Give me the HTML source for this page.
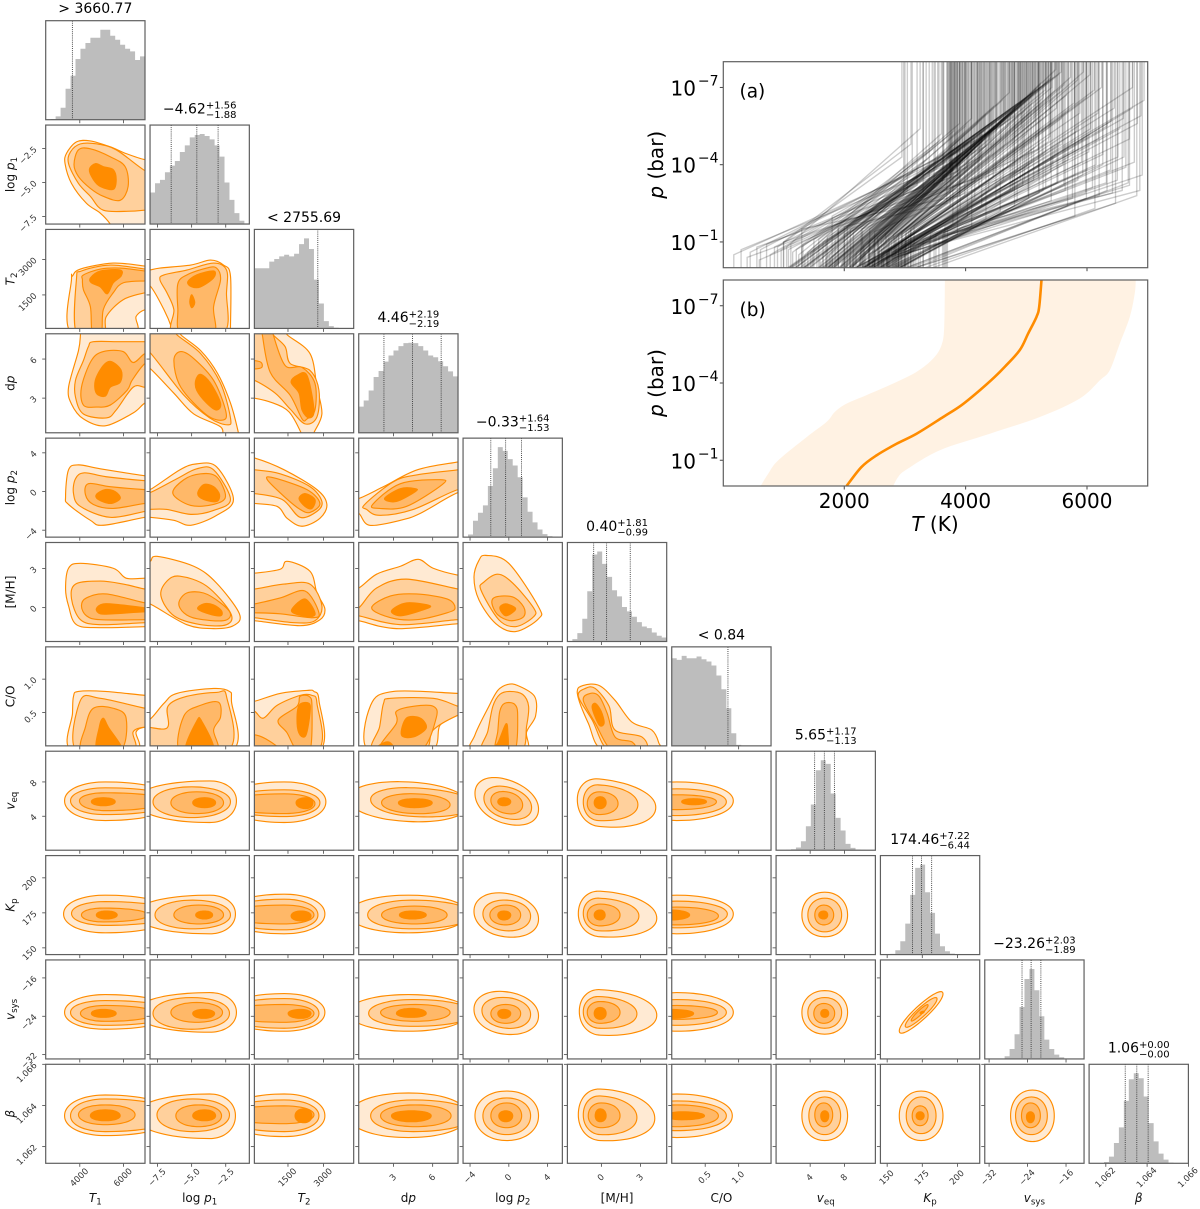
<!DOCTYPE html>
<html lang="en">
<head>
<meta charset="utf-8">
<title>Corner plot and P-T profiles</title>
<style>
html,body{margin:0;padding:0;background:#fff}
svg{display:block;filter:blur(.3px)}
text{font-family:"DejaVu Sans","Liberation Sans",sans-serif}
</style>
</head>
<body>
<svg id="fig" xmlns="http://www.w3.org/2000/svg" width="1200" height="1209" viewBox="0 0 1200 1209"></svg>
<script>
/* ---------- corner plot parameters ---------- */
const paramLo = [2437,-8.05,85,0.34,-4.72,-2.6,0,0.04,145.2,-32.9,1.06119];
const paramHi = [6989,-0.77,4267,7.94,5.52,5.0,1.484,11.58,215.9,-12.25,1.066];
const paramIds = ['t1','log-p1','t2','dp','log-p2','m-h','c-o','v-eq','k-p','v-sys','beta'];
const paramTicks = [[4000,6000],[-7.5,-5,-2.5],[1500,3000],[3,6],[-4,0,4],[0,3],[0.5,1.0],[4,8],[150,175,200],[-32,-24,-16],[1.062,1.064,1.066]];
const paramTickLabels = [['4000','6000'],['−7.5','−5.0','−2.5'],['1500','3000'],['3','6'],['−4','0','4'],['0','3'],['0.5','1.0'],['4','8'],['150','175','200'],['−32','−24','−16'],['1.062','1.064','1.066']];
const paramLabels = [
 [['T','i'],['1','s']],[['log ','n'],['p','i'],['1','s']],[['T','i'],['2','s']],[['d','n'],['p','i']],
 [['log ','n'],['p','i'],['2','s']],[['[M/H]','n']],[['C/O','n']],[['v','i'],['eq','s']],
 [['K','i'],['p','s']],[['v','i'],['sys','s']],[['β','i']]
];
const paramTitles = [['> 3660.77'],['−4.62','+1.56','−1.88'],['< 2755.69'],['4.46','+2.19','−2.19'],['−0.33','+1.64','−1.53'],['0.40','+1.81','−0.99'],['< 0.84'],['5.65','+1.17','−1.13'],['174.46','+7.22','−6.44'],['−23.26','+2.03','−1.89'],['1.06','+0.00','−0.00']];
const paramQuantiles = [[3660.77],[-6.5,-4.62,-3.06],[2755.69],[2.27,4.46,6.65],[-1.86,-0.33,1.31],[-0.59,0.40,2.21],[0.84],[4.52,5.65,6.82],[168.02,174.46,181.68],[-25.15,-23.26,-21.23],[1.06294,1.0635,1.06405]];

/* ---------- marginal histograms (20 bins spanning each axis range) ---------- */
const histT1   = [0,2,10,36,93,132,182,213,230,246,246,270,270,252,240,225,213,205,179,190];
const histLogP1= [95,123,133,156,176,190,217,237,261,268,271,265,255,237,203,125,73,33,10,2];
const histT2   = [181,181,181,201,209,217,222,217,225,254,271,239,147,75,22,7,2,1,0,0];
const histDp   = [78,96,126,166,184,212,230,245,258,267,268,267,258,245,230,225,213,198,183,168];
const histLogP2= [0,8,49,73,95,153,206,269,258,233,214,179,119,76,44,23,9,3,1,0];
const histMH   = [0,7,25,68,150,260,269,232,193,153,135,103,90,74,58,45,40,27,17,12];
const histCO   = [263,258,270,263,263,268,260,253,241,211,170,113,38,3,0,0,1,1,0,0];
const histVeq  = [0,0,1,3,8,27,72,137,240,270,259,170,97,59,19,7,2,1,0,0];
const histKp   = [0,0,2,13,40,93,179,260,270,187,125,63,25,10,3,1,0,0,0,0];
const histVsys = [0,0,0,1,8,30,74,156,240,270,206,128,58,30,13,5,1,0,0,0];
const histBeta = [0,0,1,4,20,61,108,188,253,271,256,201,121,66,29,11,2,0,0,0];
const histograms = [histT1,histLogP1,histT2,histDp,histLogP2,histMH,histCO,histVeq,histKp,histVsys,histBeta];

/* ---------- 2D credible contours, in percent of each parameter's axis range.
   polygon form: [level,[u,v,u,v,...]] ; level 0 is the outermost */
const contourPolys = {
'1,0':[[0,[19.5,61,21,71.5,31,83,45,84,65,78,81.5,71,100,65,110,65,110,-5,66,-5,65,0,55,11,41,21,26,41]],
 [1,[23,61,25,73,35,81,51,81,71,75,100,54,110,54,110,14,100,14,85,13,58,14,45,28,33,41]],
 [2,[28.5,60,33,75,45,76,65,68,80,58,83,38,75,24,58,28,45,36,33,48]],
 [3,[44,55,50,61,58,58,68,55,71,45,68,35,55,38,48,45]]],
'2,0':[[0,[26,-5,26,50,27,53,35,60,68,66,100,63,110,63,110,19,100,19,91,12,88,-5]],
 [1,[31,-5,31,50,36,58,65,64,100,60,110,60,110,36,100,36,78,29,61,12,58,-5]],
 [2,[37,49,38,54,55,60,75,61,100,58,110,58,110,48,100,48,78,46,68,36,58,19,56,-5,47,-5,45,22,38,39]],
 [3,[45,51,55,58,75,59,76,53,68,46,62,35,55,42,46,46]]],
'2,1':[[0,[-10,59,0,59,10,61,41,64,61,69,74,64,81,53,81,0,81,-5,22,-5,22,0,14,19,0,43,-10,43]],
 [1,[10,49,14,54,37,59,64,66,77,59,77,36,74,-5,24,-5,24,19,17,36]],
 [2,[28,45,37,54,57,61,67,61,71,49,64,22,64,-5,31,-5,28,20]],
 [3,[38,47,47,54,64,58,64,51,51,42,42,42]],
 [3,[40,27,42,34,45,26,42,21]]],
'3,0':[[0,[35,105,35,99,33,83,23,46,26,29,38,14,60,7,88,20,100,30,110,30,110,105]],
 [1,[43,87,48,92,75,92,100,92,110,92,110,47,100,46,88,46,71,23,61,15,38,19,30,36,30,53,38,73]],
 [2,[36,46,46,73,58,82,78,82,88,71,100,80,110,80,110,70,100,70,87,53,82,43,65,28,51,26,38,28]],
 [3,[50,53,58,68,66,72,76,63,75,51,65,46,60,37,51,40]]],
'3,1':[[0,[31,105,31,99,51,83,68,60,81,30,89,0,89,-5,74,-5,71,6,44,19,24,40,0,65,-10,70,-10,105]],
 [1,[27,105,27,99,51,80,71,50,81,15,78,8,60,15,34,38,0,81,-10,85,-10,105]],
 [2,[24,73,31,82,44,75,64,53,76,23,74,13,57,18,31,46]],
 [3,[46,53,51,59,61,50,71,30,67,23,57,30,47,43]]],
'3,2':[[0,[33,105,33,99,56,80,63,46,68,19,60,0,60,-5,47,-5,47,0,35,21,19,30,0,35,-10,35,-10,105]],
 [1,[19,105,19,99,31,87,36,70,56,63,65,43,63,16,51,9,36,24,21,40,0,53,-10,53,-10,105]],
 [2,[8,105,8,99,16,61,36,38,48,14,53,14,61,23,61,50,48,66,31,68,19,99,19,105]],
 [2,[-10,73,5,72,8,68,5,65,-10,65]],
 [3,[37,51,43,58,53,58,60,23,55,15,48,23,45,40]]],
'4,0':[[0,[20,41,23,68,33,73,55,69,100,62,110,62,110,20,100,20,58,12,45,17,23,33]],
 [1,[28,44,30,59,39,65,61,61,100,57,110,57,110,26,100,26,65,20,35,31]],
 [2,[40,43,43,54,65,51,100,48,110,48,110,33,100,34,68,29,48,33]],
 [3,[51,43,60,48,70,46,75,39,65,34,53,38]]],
'4,1':[[0,[0,48,30,68,47,74,67,71,84,38,67,22,41,12,24,17,0,20,-10,20,-10,48]],
 [1,[0,45,27,59,47,69,64,68,81,38,64,27,41,23,17,28,0,28,-10,26,-10,45]],
 [2,[23,44,34,58,51,64,67,61,76,41,64,33,41,32]],
 [3,[48,44,54,53,64,51,70,43,67,36,54,38]]],
'4,2':[[0,[0,80,30,68,63,48,73,33,66,19,48,11,33,19,23,31,0,34,-10,34,-10,80]],
 [1,[0,68,26,64,56,51,68,36,63,26,46,20,28,38,0,44,-10,44,-10,68]],
 [2,[13,58,19,60,53,48,66,34,56,25,46,28,30,41]],
 [3,[45,39,51,44,61,38,58,29,51,31]]],
'4,3':[[0,[0,39,25,51,59,68,100,76,110,78,110,40,100,45,62,24,42,17,11,12,0,24,-10,24,-10,39]],
 [1,[6,33,35,56,59,63,100,68,110,70,110,42,100,48,55,28,21,22,8,28]],
 [2,[14,33,42,54,82,58,84,53,48,31,21,29]],
 [3,[26,39,42,49,57,49,57,46,38,36]]],
'5,0':[[0,[20,53,23,74,35,79,68,74,81,64,100,64,110,64,110,15,100,15,55,14,31,17,23,36]],
 [1,[26,43,30,58,55,61,78,58,100,53,110,53,110,18,100,19,55,17,35,22]],
 [2,[36,36,41,44,61,48,100,39,110,39,110,22,100,22,55,22,41,26]],
 [3,[51,33,58,38,75,37,100,34,110,32,110,29,100,30,68,28,55,28]]],
'5,1':[[0,[0,81,7,86,44,76,67,59,90,28,84,16,64,13,37,17,0,38,-10,38,-10,81]],
 [1,[11,46,17,61,30,66,57,56,81,29,77,17,51,17,24,26]],
 [2,[29,39,37,49,54,49,71,39,81,28,74,21,47,23,34,29]],
 [3,[48,33,54,38,64,37,72,31,71,26,59,28]]],
'5,2':[[0,[0,69,26,73,33,81,56,71,63,49,71,33,66,22,46,16,0,21,-10,21,-10,69]],
 [1,[0,53,30,58,56,58,68,36,61,21,40,19,0,24,-10,24,-10,53]],
 [2,[0,38,26,44,51,51,65,29,58,24,26,28,0,29,-10,29,-10,38]],
 [3,[38,33,51,43,61,29,56,25,41,28]]],
'5,3':[[0,[0,54,18,68,42,76,60,83,75,74,100,67,110,67,110,18,100,18,38,13,0,21,-10,21,-10,54]],
 [1,[0,34,18,54,48,63,100,53,110,53,110,19,100,22,42,17,0,26,-10,26,-10,34]],
 [2,[13,34,32,46,58,48,89,43,97,34,89,29,58,22,32,24]],
 [3,[33,31,48,39,72,36,62,31,42,26]]],
'5,4':[[0,[11,65,16,82,23,87,46,79,76,35,76,23,53,10,33,18,16,42]],
 [1,[18,52,21,60,35,68,50,59,71,34,71,25,53,15,36,22]],
 [2,[29,39,33,45,50,45,61,35,61,25,48,21,35,27]],
 [3,[37,34,43,38,53,33,43,26]]],
'6,0':[[0,[26,-5,27,33,28,50,33,55,60,55,100,51,110,51,110,20,100,19,91,14,90,-5]],
 [1,[31,-5,35,46,55,48,100,38,110,38,110,18,100,19,88,14,87,-5]],
 [2,[37,-5,40,19,48,38,68,38,81,28,75,-5]],
 [3,[52,-5,54,19,58,28,63,19,77,-5]]],
'6,1':[[0,[-10,27,0,27,14,43,27,53,64,58,80,55,82,45,82,-5,-10,-5]],
 [1,[-10,18,17,18,18,40,37,50,67,54,77,50,78,-5,-10,-5]],
 [2,[30,-5,34,30,51,41,69,44,71,29,64,16,67,-5]],
 [3,[36,-5,47,25,52,25,64,-5]]],
'6,2':[[0,[0,45,26,53,53,56,60,55,65,46,65,-5,-10,-5,-10,45]],
 [1,[-10,35,0,35,9,28,23,41,46,51,58,51,63,43,63,-5,-10,-5]],
 [2,[24,26,43,40,46,50,55,50,58,40,56,-5,43,-5,33,13]],
 [2,[-10,10,5,10,22,0,22,-5,-10,-5]],
 [3,[43,23,45,41,55,43,56,33,52,11,46,11]]],
'6,3':[[0,[10,-5,12,41,35,55,100,53,110,53,110,35,100,31,82,21,72,-5]],
 [1,[15,-5,21,19,25,43,32,48,75,48,100,40,110,38,110,32,100,31,75,16,65,-5]],
 [2,[21,-5,38,23,38,35,55,40,75,40,78,28,62,-5]],
 [3,[43,11,48,28,62,28,68,18,55,9]],
 [3,[15,-5,25,3,32,3,35,-5]]],
'6,4':[[0,[10,-5,12,11,25,38,35,56,45,62,55,61,72,50,73,30,64,14,62,-5]],
 [1,[20,-5,25,15,30,40,37,52,47,55,60,52,66,40,64,20,58,-5]],
 [2,[33,-5,35,15,37,35,42,43,52,42,55,30,52,-5]],
 [3,[28,-5,35,3,43,22,45,15,44,-5]]],
'6,5':[[0,[10,53,16,61,32,61,48,46,65,24,85,16,92,3,91,-5,37,-5,21,23]],
 [1,[11,50,18,58,28,58,42,40,48,16,75,9,78,-5,42,-5,25,26]],
 [2,[16,46,23,53,32,50,40,33,48,9,65,4,68,-5,45,-5,28,23]],
 [3,[25,38,28,43,34,35,37,23,32,21]]]
};
/* egg form: [centre u, centre v, left, right, lower, upper, shear] ; outermost first */
const contourEggs = {
'7,0':[[60,50,41,70,20,19,0],[60,50,35,70,14,13,0],[60,50,26,60,10,8,0],[58,49,12,12,4,4,0]],
'7,1':[[60,50,75,27,22,20,0],[42,49,39,39,16,15,0],[47,48,26,27,11,11,0],[55,48,12,11,5,5,0]],
'7,2':[[30,49,60,42,21,20,0],[30,48,60,36,14,13,0],[30,47,60,31,10,10,0],[52,48,10,7,6,5,0]],
'7,3':[[50,49,60,60,20,20,-0.05],[56,49,44,60,15,14,-0.05],[57,47,34,35,10,10,-0.03],[56,48,16,18,5,4,0]],
'7,4':[[42,50,30,34,23,22,-0.25],[44,48,23,25,16,16,-0.2],[44,48,16,16,11,11,-0.15],[41,49,6,7,4,4,0]],
'7,5':[[32,49,22,57,25,23,-0.1],[31,48,15,40,18,18,-0.05],[32,47,12,19,11,12,0],[33,48,6,6,6,6,0]],
'7,6':[[5,50,30,57,20,19,0],[5,49,30,50,14,13,0],[5,49,30,40,8,7,0],[22,49,12,13,3,3,0]],
'8,0':[[60,41,42,70,19,19,0],[60,41.5,34,70,12,12,0],[58,40,22,45,7,7,0],[61,40,10,11,4,4,0]],
'8,1':[[60,41,75,26,20,19,0],[43,40,38,38,14,15,0],[49,40,25,25,9,10,0],[55,40,9,8,4,4,0]],
'8,2':[[30,41,60,41,20,20,0],[30,40,60,34,15,16,0],[30,40,60,30,9,10,0],[47,39,10,10,5,5,0]],
'8,3':[[50,41,60,60,19,19,0],[54,40,45,60,14,15,0],[56,40,33,33,9,9,0],[54,40,13,14,4,4,0]],
'8,4':[[42,40,31,34,22,22,-0.12],[44,40,24,24,16,15,-0.05],[43,40,16,15,10,10,0],[41,40,6,7,5,4,0]],
'8,5':[[33,40,22,57,22,24,-0.06],[32,41,16,40,17,16,-0.05],[33,40,13,20,11,11,0],[33,40,6,5,5,5,0]],
'8,6':[[5,41,30,57,20,19,0],[5,41,30,51,14,13,0],[5,39,30,42,9,9,0],[-2,40,5,20,5,5,0]],
'8,7':[[49,40,23,23,22,23,0],[49,40,17,17,17,17,0],[48,40,9,10,10,10,0],[48,40,5,4,4,4,0]],
'9,0':[[60,47,41,70,17,18,0],[60,47,35,70,13,12,0],[60,46,25,50,8,8,0],[58,46,12,13,4,4,0]],
'9,1':[[60,47,75,27,20,20,0],[42,46,39,38,16,16,0],[47,47,26,26,10,10,0],[54,46,11,11,5,4,0]],
'9,2':[[30,47,60,41,19,19,0],[30,46,60,35,15,15,0],[30,46,60,30,9,9,0],[47,46,13,10,5,4,0]],
'9,3':[[50,47,60,60,19,18,0],[55,46,45,60,13,14,0],[57,47,35,35,9,8,0],[53,46,15,15,4,5,0]],
'9,4':[[42,47,31,34,22,21,-0.1],[44,47,25,24,16,15,-0.08],[43,46,15,15,10,9,0],[41,46,6,7,5,4,0]],
'9,5':[[33,47,21,57,23,23,-0.05],[32,47,16,38,16,16,-0.04],[33,47,13,20,11,11,0],[33,46,6,6,6,6,0]],
'9,6':[[5,47,30,57,19,20,0],[5,47,30,50,13,13,0],[5,47,30,41,7,7,0],[-2,46,6,24,5,4,0]],
'9,7':[[49,47,23,23,22,22,0],[49,47,17,17,16,15,0],[48,46,10,11,10,10,0],[49,46,4,4,4,4,0]],
'9,8':[[41,47,22,22,9,9,0.85],[41,47,16,16,6,6,0.85],[40,47,9,8,3,3,0.9],[42,47,2,2,1,1,0.3]],
'10,0':[[60,48,41,70,20,21,0],[60,48,35,70,16,17,0],[60,49,27,30,10,10,0],[60,48,15,15,5,6,0]],
'10,1':[[60,48,75,26,23,22,0],[43,49,36,37,17,16,0],[49,48,23,23,11,11,0],[55,48,12,11,5,6,0]],
'10,2':[[30,48,60,41,21,22,0],[30,48,60,35,16,16,0],[30,49,60,30,9,9,0],[50,48,9,8,7,7,0]],
'10,3':[[50,48,60,60,22,23,0],[55,48,43,60,16,16,0],[57,48,35,36,11,11,0],[53,48,20,20,6,5,0]],
'10,4':[[44,48,32,32,25,25,0],[44,48,24,24,19,18,0],[44,48,16,15,12,13,0],[43,48,7,7,6,5,0]],
'10,5':[[33,48,22,55,25,27,-0.05],[33,48,17,37,19,20,-0.05],[34,48,13,19,12,13,0],[33,48,5,6,6,7,0]],
'10,6':[[5,48,30,56,22,22,0],[5,48,30,50,15,15,0],[5,48,30,42,11,11,0],[10,48,15,23,4,4,0]],
'10,7':[[49,48,23,23,25,25,0],[49,48,16,16,19,19,0],[48,49,9,9,12,12,0],[49,48,4,4,6,5,0]],
'10,8':[[41,48,22,22,25,25,0],[41,48,15,15,18,19,0],[40,48,8,8,10,10,0],[40,48,4,4,4,4,0]],
'10,9':[[48,48,22,22,26,26,0],[47,48,16,16,19,19,0],[46,48,9,10,12,13,0],[46,47,4,4,6,5,0]]
};

/* ---------- panel (a): sampled P-T profiles [T1, log p1, T2, log p2] ---------- */
const profileSamples = [
[5940,-7.6,2380,-.2],[5620,-7.1,2510,-.6],[5280,-6.6,2250,-.3],[5850,-7.3,2620,-.7],[5100,-6.4,2100,-.1],[5480,-6.9,2440,-.5],[5730,-7.4,2160,.1],[4980,-6.1,2300,-.4],[5360,-6.5,2580,-.8],[6050,-7.5,2720,-.9],
[4760,-5.9,2040,-.2],[5190,-6.3,2350,-.6],[5540,-6.8,2020,-.1],[4880,-6.2,1900,-.3],[5420,-7.0,1960,-.2],[5050,-6.0,2460,-.7],[4620,-5.7,2180,-.5],[5660,-6.7,2660,-1.0],[5310,-6.9,1840,-.2],[4700,-5.5,2400,-.7],
[4450,-5.4,2010,-.3],[4510,-5.3,2260,-.6],[4390,-5.0,2330,-.7],[4270,-4.9,2140,-.4],[4180,-4.8,1980,-.3],[4090,-4.5,2200,-.6],[3990,-4.3,2270,-.7],[3910,-4.4,1870,-.3],[3820,-4.0,2090,-.5],[3740,-3.9,2320,-.9],
[3780,-3.7,2400,-1.0],[3630,-3.9,1770,-.4],[3860,-3.6,2550,-1.2],[3710,-4.2,1620,-.2],[3760,-3.5,2680,-1.3],[3850,-3.8,2500,-1.1],[3950,-4.1,2420,-1.0],[4050,-4.0,2610,-1.1],[4140,-4.6,2480,-1.0],[4230,-4.2,2730,-1.2],
[4320,-4.7,2560,-1.1],[4420,-4.4,2810,-1.3],[4580,-5.0,2640,-1.1],[4660,-4.8,2890,-1.3],[4730,-5.2,2700,-1.2],[4810,-5.0,2950,-1.4],[4920,-5.5,2570,-.9],[5010,-5.2,3020,-1.4],[5140,-5.7,2750,-1.1],[5230,-5.4,3090,-1.5],
[5330,-5.9,2830,-1.2],[5400,-5.6,3150,-1.6],[5500,-6.2,2780,-1.1],[5580,-5.8,3060,-1.4],[5700,-6.1,2900,-1.2],[5790,-6.4,2860,-1.2],[5880,-6.0,3100,-1.5],[5990,-6.6,2950,-1.3],[6120,-6.9,2840,-1.1],[6240,-7.0,3010,-1.3],
[6870,-3.0,3050,-.6],[6700,-3.2,2950,-.5],[6580,-3.0,3250,-.9],[6420,-2.9,3400,-1.1],[6320,-3.3,3100,-.8],[6200,-2.8,3480,-1.2],[6090,-3.1,2860,-.4],[5980,-2.9,3220,-.9],[5850,-3.4,2760,-.4],[5760,-2.7,3510,-1.3],
[5640,-3.0,3180,-.9],[5520,-3.3,2990,-.7],[5410,-2.6,3560,-1.2],[5320,-3.1,2890,-.7],[5210,-2.9,3130,-.9],[5120,-3.4,2700,-.6],[5030,-2.8,3300,-1.1],[4940,-3.2,2920,-.8],[4850,-2.6,3420,-1.3],[4770,-3.0,3000,-1.0],
[6910,-3.6,2720,-.3],[6780,-4.1,2650,-.3],[6640,-3.9,2880,-.5],[6510,-4.3,2600,-.3],[6390,-3.8,3040,-.6],[6260,-4.4,2540,-.2],[6150,-4.0,2820,-.5],[6030,-4.5,2460,-.2],[5910,-4.1,2930,-.7],[5800,-4.6,2380,-.1],
[5690,-4.2,2790,-.6],[5590,-4.8,2300,-.1],[5470,-4.3,2710,-.6],[5370,-4.9,2220,-.1],[5260,-4.4,2640,-.6],[5160,-5.0,2150,-.1],[5070,-4.5,2570,-.6],[4960,-4.6,2490,-.6],[4870,-4.7,2410,-.5],[6700,-5.0,2700,-.4],
[6830,-5.6,2500,-.2],[6600,-5.8,2350,-.1],[6450,-6.2,2470,-.3],[6330,-5.5,2900,-.7],[6180,-6.0,2620,-.5],[6060,-5.4,2980,-.9],[5950,-5.0,2850,-.7],[5830,-5.3,2740,-.7],[6940,-6.5,2200,.0],[6750,-7.0,2310,-.1],
[3250,-5.4,1050,-.8],[3100,-4.8,1000,-1.0],[3000,-3.6,1800,-2.0],[2950,-4.3,900,-.8],[3350,-4.2,1500,-1.1],[3450,-4.6,1300,-.8],[3500,-3.9,1700,-1.0],[3560,-4.9,1150,-.6],[3300,-3.5,1900,-1.5],[3200,-3.2,2050,-1.6],
[3600,-5.2,1400,-.6],[3540,-4.0,1850,-1.1],[3120,-3.7,1580,-1.1],[3040,-3.0,1720,-1.2],[2980,-2.8,1650,-1.0],[3400,-3.4,2150,-1.4],[3480,-3.2,2280,-1.5],[3620,-3.3,2420,-1.5],[3700,-5.1,1250,-.5],[3800,-5.3,1450,-.6],
[3900,-5.6,1350,-.5],[4000,-5.5,1550,-.6],[4100,-5.8,1650,-.5],[4200,-5.6,1750,-.5],[4350,-6.0,1700,-.4],[4480,-6.3,1600,-.3],[4600,-6.5,1800,-.4],[4720,-6.8,1700,-.2],[3640,-3.4,600,-.3],[3300,-2.9,400,-.4],
[3810,-4.1,300,-.7],[3980,-4.6,180,-.5],[3870,-3.6,560,-.8],[3740,-3.8,720,-.9],[3760,-3.2,1000,-1.0],[4100,-4.9,450,-.6],[4300,-5.2,620,-.7],[3940,-4.4,850,-.8],[3830,-4.7,780,-.5],[4020,-3.9,1120,-.9],
[4250,-4.3,1320,-.9],[4400,-4.8,1080,-.7],[4640,-5.6,960,-.7],[4900,-6.0,1210,-.7],[5100,-6.7,1480,-.6],[3900,-2.8,1300,-1.5],[3690,-2.5,2000,-1.6],[4200,-3.5,1900,-1.6],[4500,-3.8,2100,-1.5],[4800,-4.0,2300,-1.5],
[5200,-4.6,2000,-1.3],[5000,-3.9,2500,-1.4],[5200,-3.5,3660,-1.6],[5600,-4.0,3620,-1.3],[6000,-3.8,3700,-1.5],[4800,-3.0,3640,-1.4],[5400,-3.7,3680,-1.2],[6500,-3.4,3300,-.7],
[5800,-3.6,3000,-.5],[4900,-3.4,2800,-.6],
[3720,-4.1,1610,.1],[3745,-2.4,2310,.0],[3770,-4.0,1880,.2],[3790,-1.7,2590,.0],[3815,-4.5,1320,.1],[3840,-4.0,2090,.0],[3865,-1.3,2760,.1],[3890,-4.3,1740,.2],[3910,-2.3,2470,.0],[3935,-4.8,1130,.1],
[3960,-4.5,1570,.0],[3985,-2.8,2280,.2],[4005,-4.5,1930,.0],[4030,-2.0,2630,.1],[4055,-4.9,1270,.0],[4080,-4.5,2120,.2],[4100,-1.6,2790,.0],[4125,-4.8,1770,.1],[4150,-2.7,2420,.0],[4170,-5.2,1080,.2],
[4195,-5.0,1640,.1],[4220,-3.1,2330,.0],[4240,-5.0,1860,.1],[4265,-2.4,2570,.2],[4290,-5.3,1340,.0],[4310,-5.0,2060,.1],[4335,-1.9,2830,.0],[4360,-5.2,1720,.2],[4380,-3.0,2480,.0],[4405,-5.6,1150,.1],
[4430,-5.4,1590,.0],[4455,-3.5,2270,.1],[4480,-5.5,1920,.2],[4500,-2.7,2650,.0],[4525,-5.8,1290,.1],[4550,-5.6,2130,.0],[4570,-2.2,2770,.2],[4595,-5.7,1780,.0],[4620,-3.4,2410,.1],[4640,-6.0,1070,.0],
[4665,-5.9,1620,.2],[4690,-3.9,2340,.0],[4715,-6.0,1870,.1],[4735,-3.0,2560,.0],[4760,-6.2,1330,.2],[4785,-6.1,2080,.0],[4805,-2.4,2840,.1],[4830,-6.2,1730,.0],[4855,-3.8,2490,.2],[4875,-6.4,1120,.0],
[4900,-6.3,1580,.1],[4925,-4.3,2320,.0],[4945,-6.5,1940,.2],[4970,-3.4,2620,.0],[4995,-6.6,1260,.1],[5015,-6.6,2110,.0],[5040,-2.7,2780,.2],[5065,-6.6,1790,.0],[5085,-4.1,2430,.1],[5110,-6.8,1090,.0],
[5135,-6.8,1630,.2],[5155,-4.7,2290,.0],[5180,-7.0,1890,.1],[5205,-3.7,2580,.0],[5225,-7.0,1310,.2],[5250,-7.2,2070,.0],[5275,-3.0,2820,.1],[5295,-7.1,1760,.0],[5320,-4.5,2460,.2],[5345,-7.2,1140,.0],
[5365,-7.2,1600,.1],[5390,-5.1,2350,.0],[5415,-7.4,1910,.2],[5435,-4.0,2640,.0],[5460,-7.4,1280,.1],[5485,-7.7,2120,.0],[5505,-3.3,2750,.2],[5530,-7.5,1730,.0],[5550,-4.8,2440,.1],[5575,-7.6,1100,.0],
[5620,-3.2,2680,.1],[5680,-2.4,3020,.0],[5740,-4.8,2390,.2],[5800,-2.0,3170,.0],[5860,-4.6,2230,.1],[5930,-3.6,2720,.0],[5990,-2.7,2970,.2],[6060,-5.2,2410,.0],[6130,-2.3,3210,.1],[6190,-5.0,2180,.0],
[6260,-4.0,2690,.2],[6330,-3.0,3030,.0],[6400,-5.7,2370,.1],[6470,-2.5,3190,.0],[6540,-5.4,2240,.2],[6610,-4.3,2710,.0],[6680,-3.3,2980,.1],[6750,-6.2,2420,.0],[6820,-2.8,3220,.2],[6890,-5.9,2190,.0]
];

/* ---------- panel (b): median profile and credible band ---------- */
const medianLogP = [-8,-6.96,-6.57,-5.92,-5.28,-4.63,-4.24,-3.72,-3.14,-2.68,-2.03,-1.64,-1.19,-0.74,0];
const medianT    = [5250,5212,5168,5030,4893,4646,4481,4234,3932,3630,3191,2862,2532,2285,2038];
const bandLowLogP = [-8,-6.18,-5.47,-4.95,-4.43,-3.98,-3.53,-3.2,-2.88,-2.49,-1.9,-1,-0.48,0];
const bandLowT    = [3658,3647,3603,3466,3191,2807,2368,2038,1846,1709,1380,913,748,622];
const bandHighLogP = [-8,-7.48,-6.57,-5.53,-4.5,-4.1,-3.4,-2.68,-2.03,-1.39,-0.64,-0.35,0];
const bandHighT    = [6804,6787,6705,6540,6376,6211,5882,5223,4399,3576,3027,2889,2807];
const pressureTicks = [-7,-4,-1];
const temperatureTicks = [2000,4000,6000];

/* ---------- helpers ---------- */
const SVGNS = 'http://www.w3.org/2000/svg';
const fig = document.getElementById('fig');
const defs = document.createElementNS(SVGNS,'defs');
fig.appendChild(defs);
function mk(tag,attrs,parent){
  const e = document.createElementNS(SVGNS,tag);
  for(const k in attrs) e.setAttribute(k,attrs[k]);
  (parent||fig).appendChild(e);
  return e;
}
const panelW = 99.3, panelH = 99;
function panelLeft(c){return 45.7+104.34*c;}
function panelTop(r){return 20.7+104.36*r;}
function xScale(c,val){return panelLeft(c)+(val-paramLo[c])/(paramHi[c]-paramLo[c])*panelW;}
function yScale(r,val){return panelTop(r)+panelH-(val-paramLo[r])/(paramHi[r]-paramLo[r])*panelH;}
function fromPct(p,u){return paramLo[p]+u/100*(paramHi[p]-paramLo[p]);}
function fx(n){return n.toFixed(2);}
function smoothClosed(pts){
  const n=pts.length; let d='M'+fx(pts[0][0])+' '+fx(pts[0][1]);
  for(let i=0;i<n;i++){
    const p0=pts[(i-1+n)%n],p1=pts[i],p2=pts[(i+1)%n],p3=pts[(i+2)%n];
    d+='C'+fx(p1[0]+(p2[0]-p0[0])/6)+' '+fx(p1[1]+(p2[1]-p0[1])/6)+' '+fx(p2[0]-(p3[0]-p1[0])/6)+' '+fx(p2[1]-(p3[1]-p1[1])/6)+' '+fx(p2[0])+' '+fx(p2[1]);
  }
  return d+'Z';
}
function smoothOpen(pts,start){
  let d=(start?'M':'L')+fx(pts[0][0])+' '+fx(pts[0][1]);
  for(let i=0;i<pts.length-1;i++){
    const p0=pts[Math.max(i-1,0)],p1=pts[i],p2=pts[i+1],p3=pts[Math.min(i+2,pts.length-1)];
    d+='C'+fx(p1[0]+(p2[0]-p0[0])/6)+' '+fx(p1[1]+(p2[1]-p0[1])/6)+' '+fx(p2[0]-(p3[0]-p1[0])/6)+' '+fx(p2[1]-(p3[1]-p1[1])/6)+' '+fx(p2[0])+' '+fx(p2[1]);
  }
  return d;
}
function addRuns(t,runs){
  runs.forEach(function(run){
    const s=document.createElementNS(SVGNS,'tspan');
    s.textContent=run[0];
    if(run[1]==='i') s.setAttribute('font-style','italic');
    if(run[1]==='s'){s.setAttribute('font-size','0.72em');s.setAttribute('dy','2.5');}
    t.appendChild(s);
  });
}
const levelFills = ['#ffead3','#ffd09c','#ffb868','#ff8c00'];
const frameColor = '#5f5f5f', tickColor = '#444';

function drawFrame(x,y,w,h,name){
  const f=mk('rect',{x:x,y:y,width:w,height:h,fill:'none',stroke:frameColor,'stroke-width':1.2});
  
  
}
function tickX(x,y){
  const t=mk('line',{x1:x,x2:x,y1:y,y2:y+3.5,stroke:tickColor,'stroke-width':.8});
  
  
}
function tickY(x,y){
  const t=mk('line',{x1:x-3.5,x2:x,y1:y,y2:y,stroke:tickColor,'stroke-width':.8});
  
  
}

/* ---------- diagonal: histograms, quantile lines, titles ---------- */
histograms.forEach(function(counts,p){
  const g=mk('g',{});
  
  
  const top=Math.max.apply(null,counts)*1.1;
  const base=panelTop(p)+panelH, step=(paramHi[p]-paramLo[p])/counts.length;
  let d='M'+fx(xScale(p,paramLo[p]))+' '+fx(base);
  counts.forEach(function(v,i){
    const yy=base-v/top*panelH;
    d+='L'+fx(xScale(p,paramLo[p]+i*step))+' '+fx(yy)+'L'+fx(xScale(p,paramLo[p]+(i+1)*step))+' '+fx(yy);
  });
  d+='L'+fx(xScale(p,paramHi[p]))+' '+fx(base)+'Z';
  const bars=mk('path',{d:d,fill:'#bdbdbd'},g);
  
  
  paramQuantiles[p].forEach(function(q){
    const l=mk('line',{x1:xScale(p,q),x2:xScale(p,q),y1:panelTop(p),y2:base,stroke:'#3a3a3a','stroke-width':.9,'stroke-dasharray':'1 1.1'},g);
    
    
  });
  paramTicks[p].forEach(function(v){tickX(xScale(p,v),base);});
  drawFrame(panelLeft(p),panelTop(p),panelW,panelH,'histogram-'+paramIds[p]);

  const tt=paramTitles[p], cx=panelLeft(p)+panelW/2, ty=panelTop(p);
  if(tt.length===1){
    const t=mk('text',{x:cx,y:ty-7.5,'text-anchor':'middle','font-size':14,fill:'#000'});
    t.textContent=tt[0];
    
    
  }else{
    const m=mk('text',{x:cx,y:ty-11.7,'text-anchor':'end','font-size':14,fill:'#000'});
    m.textContent=tt[0];
    
    
    const up=mk('text',{x:cx,y:ty-16.5,'text-anchor':'start','font-size':10,fill:'#000'});
    up.textContent=tt[1];
    
    
    const dn=mk('text',{x:cx,y:ty-7,'text-anchor':'start','font-size':10,fill:'#000'});
    dn.textContent=tt[2];
    
    
    const wm=m.getComputedTextLength(), ws=Math.max(up.getComputedTextLength(),dn.getComputedTextLength());
    const split=cx+(wm-ws)/2;
    m.setAttribute('x',split); up.setAttribute('x',split); dn.setAttribute('x',split);
  }
});

/* ---------- off-diagonal contour panels ---------- */
function contourShape(r,c,pts,level,parent){
  const mapped=pts.map(function(q){return [xScale(c,fromPct(c,q[0])),yScale(r,fromPct(r,q[1]))];});
  const s=mk('path',{d:smoothClosed(mapped),fill:levelFills[level],stroke:'#ff8c00','stroke-width':1.15,'stroke-linejoin':'round'},parent);
  
  
}
function eggPoints(e){
  const pts=[], n=44, pw=2/2.1;
  for(let i=0;i<n;i++){
    const a=i/n*2*Math.PI, ca=Math.cos(a), sa=Math.sin(a);
    const du=(ca<0?e[2]:e[3])*Math.sign(ca)*Math.pow(Math.abs(ca),pw);
    const dv=(sa<0?e[4]:e[5])*Math.sign(sa)*Math.pow(Math.abs(sa),pw);
    pts.push([e[0]+du,e[1]+dv+e[6]*du]);
  }
  return pts;
}
for(let r=1;r<paramIds.length;r++){
  for(let c=0;c<r;c++){
    const key=r+','+c, x0=panelLeft(c), y0=panelTop(r);
    const clipId='clip-'+r+'-'+c;
    const cp=mk('clipPath',{id:clipId},defs);
    mk('rect',{x:x0,y:y0,width:panelW,height:panelH},cp);
    const g=mk('g',{'clip-path':'url(#'+clipId+')'});
    
    
    if(contourPolys[key]){
      contourPolys[key].forEach(function(item){
        const flat=item[1], pts=[];
        for(let i=0;i<flat.length;i+=2) pts.push([flat[i],flat[i+1]]);
        contourShape(r,c,pts,item[0],g);
      });
    }else{
      contourEggs[key].forEach(function(e,level){contourShape(r,c,eggPoints(e),level,g);});
    }
    paramTicks[c].forEach(function(v){tickX(xScale(c,v),y0+panelH);});
    paramTicks[r].forEach(function(v){tickY(x0,yScale(r,v));});
    drawFrame(x0,y0,panelW,panelH,'panel-'+paramIds[c]+'-vs-'+paramIds[r]);
  }
}

/* ---------- corner axis labels ---------- */
paramIds.forEach(function(id,p){
  paramTicks[p].forEach(function(v,i){
    const lx=mk('text',{transform:'translate('+fx(xScale(p,v))+' 1178) rotate(-45)','text-anchor':'middle','dominant-baseline':'central','font-size':8.6,fill:'#333'});
    lx.textContent=paramTickLabels[p][i];
    
    
    if(p>0){
      const ly=mk('text',{transform:'translate(36 '+fx(yScale(p,v))+') rotate(-45)','text-anchor':'end','dominant-baseline':'central','font-size':8.6,fill:'#333'});
      ly.textContent=paramTickLabels[p][i];
      
      
    }
  });
  const ax=mk('text',{x:panelLeft(p)+panelW/2,y:1202,'text-anchor':'middle','font-size':12,fill:'#111'});
  addRuns(ax,paramLabels[p]);
  
  
  if(p>0){
    const ay=mk('text',{transform:'translate(14.5 '+fx(panelTop(p)+panelH/2)+') rotate(-90)','text-anchor':'middle','font-size':12,fill:'#111'});
    addRuns(ay,paramLabels[p]);
    
    
  }
});

/* ---------- P-T panels ---------- */
const ptLeft=723.3, ptW=424.4, ptH=206;
const ptTopA=61.7, ptTopB=280;
function tScale(t){return ptLeft+(t-7)/(7000-7)*ptW;}
function pScale(top,lp){return top+(lp+8)/8*ptH;}
function ptAxes(top,name,letter,withXLabels){
  temperatureTicks.forEach(function(t){
    const tk=mk('line',{x1:tScale(t),x2:tScale(t),y1:top+ptH,y2:top+ptH+3.5,stroke:tickColor,'stroke-width':1});
    
    
    if(withXLabels){
      const lb=mk('text',{x:tScale(t),y:508,'text-anchor':'middle','font-size':20,fill:'#000'});
      lb.textContent=String(t);
      
      
    }
  });
  pressureTicks.forEach(function(lp){
    const yy=pScale(top,lp);
    const tk=mk('line',{x1:ptLeft-3.5,x2:ptLeft,y1:yy,y2:yy,stroke:tickColor,'stroke-width':1});
    
    
    const sup=mk('text',{x:718.5,y:yy-2,'text-anchor':'end','font-size':14,fill:'#000'});
    sup.textContent='−'+Math.abs(lp);
    
    
    const base=mk('text',{x:696,y:yy+8,'text-anchor':'end','font-size':20,fill:'#000'});
    base.textContent='10';
    
    
  });
  drawFrame(ptLeft,top,ptW,ptH,name);
  const yl=mk('text',{transform:'translate(663 '+fx(top+ptH/2)+') rotate(-90)','text-anchor':'middle','font-size':20,fill:'#000'});
  addRuns(yl,[['p','i'],[' (bar)','n']]);
  
  
  const tag=mk('text',{x:739.5,y:top+36,'font-size':18.5,fill:'#000'});
  tag.textContent=letter;
  
  
}
const cpA=mk('clipPath',{id:'clip-a'},defs);
mk('rect',{x:ptLeft,y:ptTopA,width:ptW,height:ptH},cpA);
const cpB=mk('clipPath',{id:'clip-b'},defs);
mk('rect',{x:ptLeft,y:ptTopB,width:ptW,height:ptH},cpB);

const gA=mk('g',{'clip-path':'url(#clip-a)',fill:'none',stroke:'#000','stroke-width':1.35,'stroke-opacity':.2});


profileSamples.forEach(function(s){
  const pl=mk('polyline',{points:[
    fx(tScale(s[0]))+','+fx(pScale(ptTopA,-8)),
    fx(tScale(s[0]))+','+fx(pScale(ptTopA,s[1])),
    fx(tScale(s[2]))+','+fx(pScale(ptTopA,s[3])),
    fx(tScale(s[2]))+','+fx(pScale(ptTopA,0))].join(' ')},gA);
  
  
});
ptAxes(ptTopA,'panel-a','(a)',false);

const gB=mk('g',{'clip-path':'url(#clip-b)'});


const lowPts=bandLowLogP.map(function(p,i){return [tScale(bandLowT[i]),pScale(ptTopB,p)];});
const highPts=bandHighLogP.map(function(p,i){return [tScale(bandHighT[i]),pScale(ptTopB,p)];}).reverse();
const band=mk('path',{d:smoothOpen(lowPts,true)+smoothOpen(highPts,false)+'Z',fill:'#ff8c00','fill-opacity':.11},gB);


const medPts=medianLogP.map(function(p,i){return [tScale(medianT[i]),pScale(ptTopB,p)];});
const med=mk('path',{d:smoothOpen(medPts,true),fill:'none',stroke:'#ff8c00','stroke-width':2.6},gB);


ptAxes(ptTopB,'panel-b','(b)',true);

const tx=mk('text',{x:935,y:531,'text-anchor':'middle','font-size':20,fill:'#000'});
addRuns(tx,[['T','i'],[' (K)','n']]);


</script>
</body>
</html>
